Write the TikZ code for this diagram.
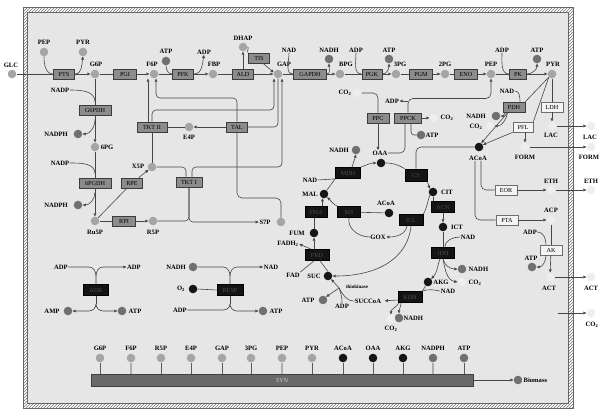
\documentclass[tikz,border=0pt]{standalone}
\usepackage{fontspec}
\setmainfont{Liberation Serif}
\usetikzlibrary{arrows.meta,patterns}
\definecolor{cbg}{RGB}{230,230,230}
\definecolor{cmet}{RGB}{165,165,165}
\definecolor{ccof}{RGB}{112,112,112}
\definecolor{ctca}{RGB}{22,22,22}
\definecolor{cprd}{RGB}{238,238,238}
\definecolor{cenz}{RGB}{140,140,140}
\definecolor{cenzd}{RGB}{60,60,60}
\definecolor{cblk}{RGB}{20,20,20}
\definecolor{cbtx}{RGB}{75,75,75}
\definecolor{cwht}{RGB}{244,244,244}
\definecolor{cwd}{RGB}{110,110,110}
\definecolor{cln}{RGB}{70,70,70}
\definecolor{csyn}{RGB}{105,105,105}
\newcommand\lf{\fontsize{6.6}{7}\selectfont\bfseries}
\newcommand\enzfont{\fontsize{6.2}{7}\selectfont}
\newcommand\metab[5]{\node[#1] (#2) at (#3) {}; \node[lbl] (#2l) at (#4) {#5};}
\tikzset{
 met/.style={circle,fill=cmet,inner sep=0pt,minimum size=8.6pt},
 cof/.style={met,fill=ccof},
 tca/.style={met,fill=ctca},
 prd/.style={met,fill=cprd},
 enz/.style={rectangle,draw=cenzd,fill=cenz,line width=0.7pt,inner sep=0pt,minimum height=10pt,font=\enzfont,text=black},
 benz/.style={enz,fill=cblk,draw=black,text=cbtx,minimum height=11pt},
 wenz/.style={enz,fill=cwht,draw=cwd},
 lbl/.style={inner sep=0.5pt,font=\lf,text=black},
 ln/.style={draw=cln,line width=0.6pt},
 ar/.style={ln,-{Triangle[length=3.2pt,width=2.8pt]}},
 stema/.style={draw=black!65,line width=0.6pt},
 stemb/.style={draw=black!32,line width=1.1pt},
}
\begin{document}
\begin{tikzpicture}[x=1pt,y=-1pt]
\useasboundingbox (0,0) rectangle (600,410);
\fill[white] (0,0) rectangle (600,410);
\fill[pattern=north east lines,pattern color=black!55] (23,7) rectangle (573,408);
\fill[cbg] (27,12) rectangle (568,403);
\draw[black!60,line width=0.4pt] (23,7) rectangle (573,408);
\draw[black!60,line width=0.4pt] (27,12) rectangle (568,403);

% ---------- glycolysis row
\metab{met}{GLC}{12,74}{11,65}{GLC}
\metab{met}{PEPa}{44,52}{44,42}{PEP}
\metab{met}{PYRa}{83,52}{83,42}{PYR}
\node[enz,minimum width=21pt] (PTS) at (64,74) {PTS};
\metab{met}{G6P}{95,74}{96,64}{G6P}
\node[enz,minimum width=23pt] (PGI) at (125,74) {PGI};
\metab{met}{F6P}{154,74}{152,64}{F6P}
\metab{cof}{ATPa}{166,61}{166,51}{ATP}
\node[enz,minimum width=21pt] (PFK) at (183,74) {PFK};
\node[lbl] (ADPa) at (204,52) {ADP};
\metab{met}{FBP}{213,74}{214,64}{FBP}
\node[enz,minimum width=21pt] (ALD) at (243,74) {ALD};
\metab{met}{DHAP}{243,47}{243,38}{DHAP}
\node[enz,minimum width=21pt] (TIS) at (259,58) {TIS};
\metab{met}{GAP}{278,74}{284,64}{GAP}
\node[lbl] (NADa) at (289,50) {NAD};
\node[enz,minimum width=33pt] (GAPDH) at (310,74) {GAPDH};
\metab{cof}{NADHa}{329,59}{329,50}{NADH}
\metab{met}{BPG}{340,74}{346,64}{BPG}
\node[lbl] (ADPb) at (356,50) {ADP};
\node[enz,minimum width=20pt] (PGK) at (372,74) {PGK};
\metab{cof}{ATPb}{389,59}{389,50}{ATP}
\metab{met}{PGc}{396,74}{400,64}{3PG}
\node[enz,minimum width=23pt] (PGM) at (421,74) {PGM};
\metab{met}{PGd}{445,74}{445,64}{2PG}
\node[enz,minimum width=23pt] (ENO) at (466,74) {ENO};
\metab{met}{PEP}{491,74}{491,64}{PEP}
\node[lbl] (ADPc) at (502,50) {ADP};
\node[enz,minimum width=17pt] (PK) at (518,74) {PK};
\metab{cof}{ATPc}{537,59}{537,50}{ATP}
\metab{met}{PYR}{552,74}{553,64}{PYR}

\draw[ln] (GLC) -- (PTS);
\draw[ar] (PTS) -- (G6P);
\draw[ln] (G6P) -- (PGI);
\draw[ar] (PGI) -- (F6P);
\draw[ln] (F6P) -- (PFK);
\draw[ar] (PFK) -- (FBP);
\draw[ln] (FBP) -- (ALD);
\draw[ar] (ALD) -- (GAP);
\draw[ln] (GAP) -- (GAPDH);
\draw[ar] (GAPDH) -- (BPG);
\draw[ln] (BPG) -- (PGK);
\draw[ar] (PGK) -- (PGc);
\draw[ln] (PGc) -- (PGM);
\draw[ar] (PGM) -- (PGd);
\draw[ln] (PGd) -- (ENO);
\draw[ar] (ENO) -- (PEP);
\draw[ln] (PEP) -- (PK);
\draw[ar] (PK) -- (PYR);

\draw[ln] (PEPa.south) to[out=-90,in=180] (PTS.west);
\draw[ar] (PTS.east) to[out=0,in=-100] (PYRa.south);
\draw[ln] (ATPa.south) to[out=-90,in=180] (PFK.west);
\draw[ar] (PFK.east) to[out=0,in=-100] (ADPa.south);
\draw[ar] (ALD.north -| DHAP) -- (DHAP.south);
\draw[ln] (DHAP.east) to[out=0,in=150] (TIS.north west);
\draw[ar] ([xshift=4pt]TIS.south) -- (GAP.160);
\draw[ln] (NADa.south) to[out=-90,in=180] (GAPDH.west);
\draw[ar] (GAPDH.east) to[out=0,in=-90] (NADHa.south);
\draw[ln] (ADPb.south) to[out=-90,in=180] (PGK.west);
\draw[ar] (PGK.east) to[out=0,in=-90] (ATPb.south);
\draw[ln] (ADPc.south) to[out=-90,in=180] (PK.west);
\draw[ar] (PK.east) to[out=0,in=-90] (ATPc.south);

% ---------- pentose phosphate
\node[lbl] (NADPa) at (60,90) {NADP};
\node[enz,minimum width=32pt] (G6PDH) at (95,110) {G6PDH};
\metab{cof}{NADPHa}{78,134}{56,134}{NADPH}
\metab{met}{PG6}{95,147}{107,147}{6PG}
\draw[ln] (G6P) -- (G6PDH);
\draw[ar] (G6PDH) -- (PG6);
\draw[ln] (NADPa.east) to[out=0,in=90] ([yshift=3pt]G6PDH.north);
\draw[ar] ([yshift=-4pt]G6PDH.south) to[out=-90,in=0] (NADPHa.east);

\node[lbl] (NADPb) at (60,163) {NADP};
\node[enz,minimum width=32pt] (PGDH) at (95,183) {6PGDH};
\metab{cof}{NADPHb}{78,205}{56,205}{NADPH}
\metab{met}{Ru5P}{95,221}{95,232}{Ru5P}
\draw[ln] (PG6) -- (PGDH);
\draw[ar] (PGDH) -- (Ru5P);
\draw[ln] (NADPb.east) to[out=0,in=90] ([yshift=4pt]PGDH.north);
\draw[ar] ([yshift=-4pt]PGDH.south) to[out=-90,in=0] (NADPHb.east);

\node[enz,minimum width=23pt] (RPI) at (124,221) {RPI};
\metab{met}{R5P}{153,221}{153,232}{R5P}
\draw[ln] (Ru5P) -- (RPI);
\draw[ar] (RPI) -- (R5P);
\node[enz,minimum width=21pt] (RPE) at (132,183) {RPE};
\metab{met}{X5P}{152,167}{138,166}{X5P}
\draw[ln] (Ru5P) -- (RPE);
\draw[ar] (RPE) -- (X5P);
\node[enz,minimum width=30pt] (TKT2) at (152,127) {TKT II};
\metab{met}{E4P}{189,127}{189,137}{E4P}
\node[enz,minimum width=21pt] (TAL) at (237,127) {TAL};
\node[enz,minimum width=26pt] (TKT1) at (189,182) {TKT I};
\metab{met}{S7P}{281,222}{265,222}{S7P}

\draw[ln] (X5P) -- (TKT2);
\draw[ln] (TKT2) -- (E4P);
\draw[ar] (TAL) -- (E4P);
\draw[ar] ([xshift=-4pt]TKT2.north) -- ([xshift=-4pt]TKT2.north |- F6P.south);
\coordinate (g1) at (274,110);
\draw[ar,rounded corners=4pt] (TKT2.north) |- (g1) -- (g1 |- GAP.south);
\draw[ln,rounded corners=4pt] (TAL.east) -| (GAP.south);
\coordinate (g3) at (282,167);
\draw[ar,rounded corners=4pt] ([xshift=3pt]TKT1.north) |- (g3) -- (g3 |- GAP.south);
\coordinate (f1) at (156,98);
\draw[ar,rounded corners=4pt] (TAL.north) |- (f1) -- (f1 |- F6P.south);
\draw[ln,rounded corners=4pt] (X5P.east) -| ([xshift=-3pt]TKT1.north);
\draw[ln,rounded corners=4pt] (R5P.east) -| (TKT1.south);
\draw[ar,rounded corners=4pt] (TKT1.south) |- (S7Pl.west);
\coordinate (s1) at (281,198);
\draw[ln,rounded corners=5pt] (TAL.south) |- (s1) -- (S7P.north);

% ---------- anaplerotic
\metab{prd}{CO2a}{357,93}{345,93}{CO\textsubscript{2}}
\node[enz,minimum width=22pt] (PPC) at (378,118) {PPC};
\node[lbl] (ADPd) at (392,101) {ADP};
\node[enz,minimum width=27pt] (PPCK) at (408,118) {PPCK};
\metab{prd}{CO2b}{434,118}{447,118}{CO\textsubscript{2}}
\node[cof] (ATPd) at (421,135) {};
\node[lbl,anchor=west] (ATPdl) at (425,135) {ATP};
\metab{tca}{OAA}{381,163}{380,153}{OAA}
\draw[ln,rounded corners=5pt] (CO2a.east) -| (PPC.north);
\draw[ar] (PPC.south) -- (PPC.south |- OAAl.north);
\draw[ar,rounded corners=5pt] (PPCK.north) |- ([yshift=-20pt]PEP.south) -- (PEP.south);
\draw[ar] (PPCK.north |- ADPd.east) -- (ADPd.east);
\draw[ar] (PPCK) -- (CO2b);
\draw[ln,rounded corners=5pt] ([xshift=-3pt]PPCK.south) |- (OAAl.east);
\draw[ln,rounded corners=3pt] ([xshift=3pt]PPCK.south) |- (ATPd.west);

% ---------- TCA / glyoxylate
\node[benz,minimum width=25pt] (MDH) at (348,173) {MDH};
\metab{cof}{NADHb}{356,150}{339,150}{NADH}
\node[lbl] (NADb) at (310,180) {NAD};
\metab{tca}{MAL}{324,194}{310,194}{MAL}
\node[benz,minimum width=22pt] (FMA) at (316,212) {FMA};
\node[benz,minimum width=23pt] (MS) at (349,212) {MS};
\metab{tca}{ACoAb}{389,213}{386,203}{ACoA}
\node[lbl] (GOX) at (378,237) {GOX};
\metab{tca}{FUM}{314,233}{297,233}{FUM}
\node[benz,minimum width=24pt] (FRD) at (317,255) {FRD};
\node[lbl] (FADH) at (288,244) {FADH\textsubscript{2}};
\node[lbl] (FAD) at (293,275) {FAD};
\metab{tca}{SUC}{328,276}{314,276}{SUC}

\draw[ar] ([xshift=4pt]MDH.north) -- (NADHb.south);
\draw[ar] (MDH.north east) to[out=20,in=180] (OAA.west);
\draw[ln] (NADb.east) -- (MDH.south west);
\draw[ln] (MAL) -- (MDH.south west);
\draw[ar] (FMA.north -| MAL.250) -- (MAL.250);
\draw[ar] (MS.north west) to[out=150,in=-45] (MAL.-45);
\draw[ln] (MS) -- (ACoAb);
\draw[ln] (MS.south) to[out=-100,in=180] (GOX.west);
\draw[ln] (FUM.north) -- (FUM.north |- FMA.south);
\draw[ar] (FRD.north -| FUM) -- (FUM.south);
\draw[ar] ([xshift=-6pt]FRD.north) -- (FADH.east);
\draw[ln] ([xshift=-3pt]FRD.south) -- (FAD.north east);
\draw[ln] ([xshift=3pt]FRD.south) -- (SUC.north);

\node[benz,minimum width=22pt,minimum height=12pt] (CS) at (416,175) {CS};
\metab{tca}{ACoA}{479,147}{478,158}{ACoA}
\metab{tca}{CIT}{433,192}{447,192}{CIT}
\node[benz,minimum width=23pt] (ACN) at (443,207) {ACN};
\metab{tca}{ICT}{443,227}{457,227}{ICT}
\node[benz,minimum width=24pt] (ICL) at (411,220) {ICL};
\node[benz,minimum width=23pt] (IDH) at (443,253) {IDH};
\node[lbl] (NADc) at (468,237) {NAD};
\node[cof] (NADHc) at (462,269) {};
\node[lbl,anchor=west] (NADHcl) at (468,269) {NADH};
\node[prd] (CO2c) at (462,282) {};
\node[lbl,anchor=west] (CO2cl) at (468,283) {CO\textsubscript{2}};
\metab{tca}{AKG}{428,282}{441,282}{AKG}
\node[lbl] (NADd) at (448,291) {NAD};
\node[benz,minimum width=24pt] (KDH) at (410,297) {KDH};
\node[lbl] (SUCCoA) at (368,301) {SUCCoA};
\node[cof] (NADHd) at (399,318) {};
\node[lbl,anchor=west] (NADHdl) at (403,318) {NADH};
\metab{prd}{CO2d}{391,319}{391,329}{CO\textsubscript{2}}

\draw[ln] (OAA.east) to[out=0,in=150] (CS.north west);
\draw[ln,rounded corners=5pt] (ACoA.west) -| (CS.north);
\draw[ar] (CS.south east) -- (CIT.north west);
\draw[ln] (CIT.south) -- (CIT.south |- ACN.north);
\draw[ar] (ACN.south) -- (ICT.north);
\draw[ln] (CIT.south west) to[out=-110,in=60] (ICL.north east);
\draw[ar] ([xshift=-4pt]ICL.south) to[out=-100,in=0] (GOX.east);
\draw[ar] (ICL.south) .. controls (408,258) and (378,276) .. (SUC.east);
\draw[ln] (ICT) -- (IDH);
\draw[ln] ([xshift=2pt]IDH.north) to[out=90,in=180] (NADc.west);
\draw[ar] ([xshift=-3pt]IDH.south) to[out=-110,in=45] (AKG.45);
\draw[ar] (IDH.south) to[out=-80,in=180] (NADHc.west);
\draw[ar] (IDH.south) to[out=-80,in=170] (CO2c.west);
\draw[ln] (AKG) -- (KDH.north east);
\draw[ln] (NADd.west) to[out=170,in=20] (KDH.north east);
\draw[ar,shorten >=3pt] ([yshift=-3pt]KDH.west) -- (SUCCoA.east);
\draw[ar] ([xshift=-9pt]KDH.south) to[out=-90,in=90] (NADHd.north);
\draw[ar] ([xshift=-11pt]KDH.south) to[out=-120,in=90] (CO2d.north);

% thiokinase
\coordinate (tk) at (339,288);
\node[lbl,font=\fontsize{5}{6}\selectfont\bfseries] (thio) at (357,287) {thiokinase};
\metab{cof}{ATPe}{323,300}{308,300}{ATP}
\node[lbl] (ADPe) at (342,306) {ADP};
\draw[ln] (SUCCoA.west) to[out=180,in=-60] (tk);
\draw[ar] (tk) -- (SUC.south east);
\draw[ar] (tk) -- (ATPe.north east);
\draw[ln] (ADPe.north) to[out=90,in=-70] (tk);

% ---------- fermentation
\node[lbl] (NADe) at (507,91) {NAD};
\node[enz,minimum width=22pt] (PDH) at (514,107) {PDH};
\node[wenz,minimum width=22pt] (LDH) at (552,107) {LDH};
\node[wenz,minimum width=20pt] (PFL) at (523,127) {PFL};
\metab{cof}{NADHe}{496,116}{476,116}{NADH}
\metab{prd}{CO2e}{490,126}{476,127}{CO\textsubscript{2}}
\metab{prd}{LAC}{552,126}{551,135}{LAC}
\metab{prd}{FORM}{525,147}{525,157}{FORM}
\node[wenz,minimum width=22pt] (EOR) at (506,190) {EOR};
\node[wenz,minimum width=22pt] (PTA) at (507,220) {PTA};
\metab{prd}{ETH}{551,190}{551,181}{ETH}
\metab{prd}{ACP}{551,220}{551,210}{ACP}
\node[lbl] (ADPf) at (530,232) {ADP};
\node[wenz,minimum width=22pt] (AK) at (551,250) {AK};
\metab{cof}{ATPf}{532,267}{531,258}{ATP}
\metab{prd}{ACT}{550,277}{549,288}{ACT}

\draw[ln] (NADe.east) to[out=0,in=90] ([xshift=6pt]PDH.north);
\draw[ln] (PYR.south west) -- (PDH.north east);
\draw[ln] (PYR.south west) -- (PFL.north east);
\draw[ar] ([xshift=3pt]PDH.south west) to[out=-120,in=0] (NADHe.east);
\draw[ar] ([xshift=5pt]PDH.south west) to[out=-100,in=0] (CO2e.east);
\draw[ar] ([xshift=-6pt]PDH.south) -- (ACoA.60);
\draw[ar] (PFL.south west) -- (ACoA.30);
\draw[ln] (PYR) -- (LDH);
\draw[ar] (LDH) -- (LAC);
\draw[ar] ([xshift=2pt]PFL.south) -- (FORM.north);
\draw[ln,rounded corners=5pt] ([xshift=3pt]ACoAl.south) |- (EOR.west);
\draw[ln,rounded corners=5pt] ([xshift=-3pt]ACoAl.south) |- (PTA.west);
\draw[ar] (EOR) -- (ETH);
\draw[ar] (PTA) -- (ACP);
\draw[ln] (ACP) -- (AK);
\draw[ln] (ADPf.east) to[out=0,in=90] ([xshift=-5pt]AK.north);
\draw[ar] ([xshift=-5pt]AK.south) to[out=-90,in=0] (ATPf.east);
\draw[ar] (AK) -- (ACT);

% outside products
\metab{prd}{LACo}{591,126}{590,137}{LAC}
\metab{prd}{FORMo}{591,147}{589,157}{FORM}
\metab{prd}{ETHo}{591,190}{591,181}{ETH}
\metab{prd}{ACTo}{591,277}{591,288}{ACT}
\metab{prd}{CO2o}{591,313}{592,325}{CO\textsubscript{2}}
\coordinate (co2s) at (558,313);
\draw[ar] (LAC) -- (LACo);
\draw[ar] (FORM) -- (FORMo);
\draw[ar] (ETH) -- (ETHo);
\draw[ar] (ACT) -- (ACTo);
\draw[ar] (co2s) -- (CO2o);

% ---------- ADK and RESP
\node[lbl] (ADPg) at (61,267) {ADP};
\node[lbl] (ADPh) at (134,267) {ADP};
\node[benz,minimum width=25pt] (ADK) at (96,290) {ADK};
\metab{cof}{AMP}{68,311}{52,311}{AMP}
\metab{cof}{ATPg}{122,311}{135,311}{ATP}
\coordinate (adkT) at (96,276);
\coordinate (adkB) at (96,304);
\draw[ln] (ADPg.east) -- (89,267) to[out=0,in=90] (adkT) -- (ADK.north);
\draw[ar] (adkT) to[out=90,in=180] (103,267) -- (ADPh.west);
\draw[ln] (ADK.south) -- (adkB);
\draw[ar] (adkB) to[out=-90,in=0] (89,311) -- (AMP.east);
\draw[ar] (adkB) to[out=-90,in=180] (103,311) -- (ATPg.west);

\metab{cof}{NADHg}{193,267}{176,267}{NADH}
\metab{tca}{O2}{193,289}{181,289}{O\textsubscript{2}}
\node[lbl] (ADPi) at (180,310) {ADP};
\node[benz,minimum width=26pt] (RESP) at (230,290) {RESP};
\node[lbl] (NADg) at (271,267) {NAD};
\metab{cof}{ATPh}{263,311}{276,311}{ATP}
\coordinate (rT) at (230,276);
\coordinate (rB) at (230,304);
\draw[ln] (NADHg.east) -- (223,267) to[out=0,in=90] (rT) -- (RESP.north);
\draw[ar] (rT) to[out=90,in=180] (237,267) -- (NADg.west);
\draw[ln] (O2.east) -- (RESP.west);
\draw[ln] (RESP.south) -- (rB);
\draw[ln] (rB) to[out=-90,in=0] (223,310) -- (ADPi.east);
\draw[ar] (rB) to[out=-90,in=180] (237,311) -- (ATPh.west);

% ---------- biosynthesis
\node[draw=black!75,fill=csyn,line width=0.6pt,minimum width=382pt,minimum height=12pt,inner sep=0pt,text=black!18,font=\enzfont] (SYN) at (282,380) {SYN};
\foreach \x/\n/\s/\c in {100/G6P/met/a,131/F6P/met/b,161/R5P/met/a,191/E4P/met/a,222/GAP/met/a,251/3PG/met/a,282/PEP/met/b,312/PYR/met/a,343/ACoA/tca/a,373/OAA/tca/a,403/AKG/tca/a,433/NADPH/cof/b,464/ATP/cof/a}{
  \node[\s] (L\n) at (\x,358) {};
  \node[lbl] (L\n l) at (\x,348) {\n};
  \draw[stem\c] (L\n.south) -- (L\n.south |- SYN.north);
}
\node[cof] (BIO) at (518,380) {};
\node[lbl,anchor=west] (BIOl) at (523,380) {Biomass};
\draw[ar] (SYN.east) -- (BIO.west);
\end{tikzpicture}
\end{document}
